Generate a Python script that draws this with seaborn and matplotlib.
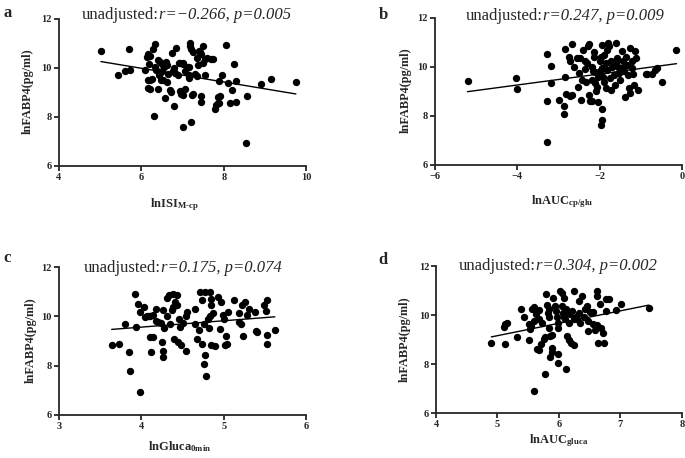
import numpy as np
import pandas as pd
import matplotlib
matplotlib.use("Agg")
import matplotlib.pyplot as plt
import seaborn as sns
from matplotlib.offsetbox import TextArea, HPacker, AnchoredOffsetbox

# ---------------- data ----------------
a_x = [5.02, 5.44, 5.60, 5.72, 5.71, 6.08, 6.13, 6.15, 6.20, 6.18,
       6.15, 6.20, 6.25, 6.15, 6.20, 6.28, 6.30, 6.34, 6.33, 6.36,
       6.40, 6.40, 6.45, 6.42, 6.45, 6.50, 6.48, 6.52, 6.50, 6.55,
       6.58, 6.60, 6.62, 6.65, 6.62, 6.70, 6.72, 6.74, 6.78, 6.80,
       6.82, 6.85, 6.80, 6.90, 6.92, 6.95, 7.00, 7.02, 7.05, 6.95,
       7.00, 6.97, 7.05, 7.02, 7.15, 7.15, 7.10, 7.15, 7.17, 7.18,
       7.20, 7.25, 7.20, 7.22, 7.25, 7.30, 7.35, 7.35, 7.38, 7.40,
       7.42, 7.45, 7.45, 7.45, 7.50, 7.50, 7.55, 7.55, 7.60, 7.70,
       7.75, 7.78, 7.82, 7.85, 7.85, 7.88, 7.90, 7.88, 7.95, 8.05,
       8.10, 8.15, 8.20, 8.25, 8.30, 8.30, 8.55, 8.57, 8.90, 9.15,
       9.75]
a_y = [10.67, 9.70, 9.87, 9.90, 10.76, 9.90, 10.45, 10.55, 10.50, 10.15,
       9.52, 9.52, 9.55, 9.17, 9.15, 10.78, 8.05, 10.99, 10.05, 9.92,
       9.12, 10.30, 10.25, 9.70, 9.80, 9.85, 9.52, 9.50, 10.15, 10.05,
       8.77, 10.25, 10.10, 9.75, 9.40, 9.10, 9.00, 10.60, 9.85, 10.00,
       9.80, 10.80, 8.42, 9.70, 10.20, 10.20, 10.20, 10.15, 9.85, 9.05,
       8.88, 8.95, 9.15, 7.60, 9.60, 9.70, 10.05, 10.05, 11.00, 10.90,
       10.75, 10.65, 7.77, 8.90, 8.95, 9.75, 9.65, 10.40, 10.10, 10.70,
       10.65, 10.55, 8.85, 8.62, 10.90, 10.20, 10.35, 9.70, 10.40, 10.35,
       10.35, 8.32, 8.50, 8.82, 8.55, 9.45, 8.85, 8.55, 9.70, 10.92,
       9.38, 8.57, 9.08, 10.15, 9.45, 8.60, 6.93, 8.84, 9.32, 9.55,
       9.42]

b_x = [-5.21, -4.03, -4.01, -3.29, -3.27, -3.27, -3.19, -3.19, -2.98, -2.86,
       -2.88, -2.82, -2.84, -2.84, -2.76, -2.73, -2.72, -2.67, -2.67, -2.63,
       -2.55, -2.53, -2.50, -2.49, -2.45, -2.43, -2.42, -2.37, -2.33, -2.31,
       -2.29, -2.27, -2.27, -2.25, -2.20, -2.19, -2.17, -2.15, -2.12, -2.19,
       -2.11, -2.07, -2.09, -2.04, -1.80, -1.60, -2.00, -1.99, -1.96, -1.94,
       -1.93, -1.90, -1.94, -1.94, -1.98, -1.86, -1.82, -1.82, -1.78, -1.74,
       -1.72, -1.70, -1.66, -1.64, -1.58, -1.56, -1.54, -1.50, -1.47, -1.46,
       -1.44, -1.42, -1.39, -1.36, -1.34, -1.31, -1.30, -1.28, -1.26, -1.23,
       -1.21, -1.20, -1.15, -1.12, -1.17, -1.07, -0.89, -0.85, -0.73, -0.67,
       -0.61, -0.50, -0.14, -1.90, -2.05, -1.75, -2.35, -1.60, -2.15, -1.85,
       -1.95]
b_y = [9.44, 9.56, 9.08, 10.52, 8.60, 6.93, 10.05, 9.36, 8.64, 8.42,
       8.07, 8.88, 9.58, 10.74, 10.42, 10.22, 8.83, 8.86, 10.95, 10.01,
       10.36, 9.16, 9.77, 10.38, 8.64, 9.47, 10.70, 10.22, 9.40, 10.15,
       10.84, 10.95, 8.85, 8.62, 9.47, 10.01, 9.85, 10.42, 9.81, 8.60,
       9.33, 9.19, 9.03, 8.55, 10.98, 10.96, 10.22, 9.85, 10.42, 10.90,
       9.60, 9.40, 8.30, 7.82, 7.63, 9.12, 9.88, 10.70, 10.84, 9.05,
       10.22, 10.01, 9.67, 9.26, 10.36, 10.01, 9.74, 9.47, 9.95, 10.63,
       10.22, 9.85, 8.78, 10.42, 10.08, 9.67, 9.12, 8.92, 10.77, 10.22,
       9.95, 9.71, 10.63, 10.36, 9.26, 9.05, 9.71, 9.71, 9.71, 9.88,
       9.95, 9.40, 10.70, 10.50, 9.60, 9.55, 9.90, 10.20, 10.60, 10.15,
       9.95]

c_x = [3.64, 3.73, 3.80, 3.85, 3.86, 3.92, 3.93, 3.96, 3.98, 3.98,
       4.03, 4.04, 4.07, 4.09, 4.11, 4.10, 4.14, 4.14, 4.12, 4.18,
       4.18, 4.20, 4.24, 4.25, 4.26, 4.26, 4.26, 4.28, 4.31, 4.31,
       4.33, 4.35, 4.37, 4.38, 4.39, 4.41, 4.40, 4.43, 4.43, 4.45,
       4.46, 4.47, 4.48, 4.50, 4.54, 4.54, 4.55, 4.65, 4.65, 4.67,
       4.70, 4.71, 4.73, 4.73, 4.76, 4.77, 4.76, 4.79, 4.77, 4.81,
       4.82, 4.83, 4.84, 4.83, 4.85, 4.85, 4.87, 4.89, 4.93, 4.95,
       4.97, 4.99, 5.00, 5.01, 5.03, 5.04, 5.05, 5.12, 5.18, 5.19,
       5.21, 5.22, 5.23, 5.26, 5.28, 5.31, 5.38, 5.39, 5.40, 5.49,
       5.51, 5.52, 5.52, 5.53, 5.62]
c_y = [8.84, 8.89, 9.69, 8.57, 7.79, 10.91, 9.56, 10.51, 10.17, 6.94,
       10.36, 9.96, 10.00, 10.00, 10.00, 9.15, 10.05, 9.15, 8.57, 10.28,
       9.83, 9.76, 9.73, 8.97, 8.61, 8.34, 10.24, 9.52, 10.03, 10.74,
       10.85, 9.69, 10.24, 10.91, 10.37, 10.60, 9.08, 10.85, 10.44, 8.95,
       9.89, 9.56, 8.84, 9.73, 10.00, 8.61, 10.17, 10.28, 9.69, 9.08,
       9.46, 11.00, 10.68, 8.88, 9.69, 8.43, 8.06, 7.59, 10.98, 9.90,
       9.52, 10.00, 10.44, 10.98, 10.71, 8.84, 10.12, 8.81, 10.78, 9.49,
       10.60, 10.05, 9.89, 8.84, 9.22, 8.88, 10.17, 10.68, 10.14, 9.76,
       9.69, 10.44, 9.19, 10.60, 10.06, 10.30, 10.17, 9.42, 9.35, 10.44,
       10.20, 8.88, 9.25, 10.68, 9.46]

d_x = [4.90, 5.12, 5.10, 5.13, 5.15, 5.32, 5.39, 5.43, 5.51, 5.52,
       5.53, 5.55, 5.56, 5.59, 5.59, 5.60, 5.62, 5.64, 5.67, 5.67,
       5.68, 5.71, 5.75, 5.77, 5.72, 5.77, 5.79, 5.80, 5.82, 5.83,
       5.84, 5.83, 5.86, 5.89, 5.86, 5.89, 5.88, 5.91, 5.94, 5.95,
       5.97, 5.98, 5.99, 5.98, 5.99, 6.02, 6.05, 6.05, 6.06, 6.08,
       6.09, 6.10, 6.11, 6.11, 6.13, 6.16, 6.20, 6.24, 6.16, 6.18,
       6.21, 6.24, 6.24, 6.27, 6.29, 6.32, 6.33, 6.37, 6.35, 6.40,
       6.43, 6.46, 6.48, 6.51, 6.55, 6.48, 6.56, 6.59, 6.62, 6.63,
       6.62, 6.62, 6.67, 6.69, 6.71, 6.74, 6.76, 6.76, 6.81, 6.93,
       7.01, 7.46]
d_y = [8.88, 8.81, 9.53, 9.63, 9.69, 9.12, 10.26, 9.94, 8.99, 9.63,
       9.45, 9.56, 10.26, 10.34, 6.91, 9.76, 10.03, 8.60, 8.58, 10.19,
       9.83, 8.81, 9.01, 9.12, 9.67, 7.59, 10.85, 10.40, 10.10, 9.94,
       10.24, 9.49, 9.15, 9.18, 8.31, 8.50, 8.67, 10.71, 10.37, 10.17,
       9.94, 9.69, 9.49, 8.04, 8.40, 10.98, 10.91, 10.37, 10.10, 9.94,
       10.71, 9.83, 10.24, 7.79, 9.15, 8.99, 8.88, 8.78, 9.69, 10.03,
       10.17, 9.83, 10.98, 9.94, 9.86, 10.10, 10.57, 10.78, 9.67, 9.94,
       10.24, 10.37, 9.76, 10.13, 10.13, 9.35, 9.63, 9.40, 9.60, 8.88,
       10.98, 10.78, 10.44, 9.49, 9.28, 8.88, 10.17, 10.67, 10.67, 10.21,
       10.44, 10.30]

panel_letters = ["a", "b", "c", "d"]
x_labels = [r"$\mathbf{lnISI_{M‐cp}}$", r"$\mathbf{lnAUC_{cp/glu}}$",
            r"$\mathbf{lnGluca_{0min}}$", r"$\mathbf{lnAUC_{gluca}}$"]
y_label = "lnFABP4(pg/ml)"
stats = ["r=\u22120.266, p=0.005", "r=0.247, p=0.009",
         "r=0.175, p=0.074", "r=0.304, p=0.002"]
x_ticks = [[4, 6, 8, 10], [-6, -4, -2, 0], [3, 4, 5, 6], [4, 5, 6, 7, 8]]
y_ticks = [6, 8, 10, 12]

# ---------------- style ----------------
sns.set_style("ticks")
plt.rcParams["font.family"] = ["Liberation Serif", "DejaVu Serif"]
plt.rcParams["mathtext.fontset"] = "custom"
plt.rcParams["mathtext.rm"] = "Liberation Serif"
plt.rcParams["mathtext.bf"] = "Liberation Serif:bold"
plt.rcParams["mathtext.it"] = "Liberation Serif:italic"

fig = plt.figure(figsize=(6.85, 4.58), dpi=100)

rects = [[0.086, 0.638, 0.361, 0.321],
         [0.635, 0.640, 0.361, 0.321],
         [0.086, 0.094, 0.361, 0.323],
         [0.6365, 0.098, 0.359, 0.321]]
title_pos = [(0.517, 1.027), (0.526, 1.01), (0.50, 0.995), (0.495, 1.0)]
xlab_pos = [(0.465, -0.265), (0.514, -0.25), (0.49, -0.216), (0.50, -0.19)]
ylab_x = [-0.125, -0.12, -0.113, -0.126]
letter_pos = [(0.005, 0.972), (0.553, 0.968), (0.005, 0.437), (0.553, 0.432)]

datasets = [(a_x, a_y), (b_x, b_y), (c_x, c_y), (d_x, d_y)]

for i, (xs, ys) in enumerate(datasets):
    ax = fig.add_axes(rects[i])
    df = pd.DataFrame({"x": xs, "y": ys})
    sns.regplot(data=df, x="x", y="y", ax=ax, ci=None, color="black",
                scatter_kws=dict(s=28, linewidths=0, alpha=1, clip_on=False),
                line_kws=dict(lw=1.0, color="black"))
    ax.set_xlim(x_ticks[i][0], x_ticks[i][-1])
    ax.set_ylim(6, 12)
    ax.set_xticks(x_ticks[i])
    ax.set_yticks(y_ticks)
    ax.set_xlabel("")
    ax.set_ylabel("")
    sns.despine(ax=ax)
    for s in ["left", "bottom"]:
        ax.spines[s].set_linewidth(1.3)
    ax.tick_params(direction="out", length=3.5, width=1.3, labelsize=7.5, pad=1.5)
    for lab in ax.get_xticklabels() + ax.get_yticklabels():
        lab.set_fontweight("bold")

    # title with mixed styles
    t1 = TextArea("unadjusted:", textprops=dict(family="Liberation Serif", size=12))
    t2 = TextArea(stats[i], textprops=dict(family="Liberation Serif", size=12, style="italic"))
    box = HPacker(children=[t1, t2], align="baseline", pad=0, sep=0)
    ab = AnchoredOffsetbox(loc="center", child=box, pad=0, borderpad=0, frameon=False,
                           bbox_to_anchor=title_pos[i], bbox_transform=ax.transAxes)
    ax.add_artist(ab)

    ax.text(xlab_pos[i][0], xlab_pos[i][1], x_labels[i], transform=ax.transAxes,
            ha="center", va="center", fontsize=9)
    ax.text(ylab_x[i], 0.505, y_label, transform=ax.transAxes, rotation=90,
            ha="center", va="center", fontsize=8.8, fontweight="bold")
    fig.text(letter_pos[i][0], letter_pos[i][1], panel_letters[i], fontsize=12,
             fontweight="bold", ha="left", va="center")

fig.savefig("out.png", dpi=100)
